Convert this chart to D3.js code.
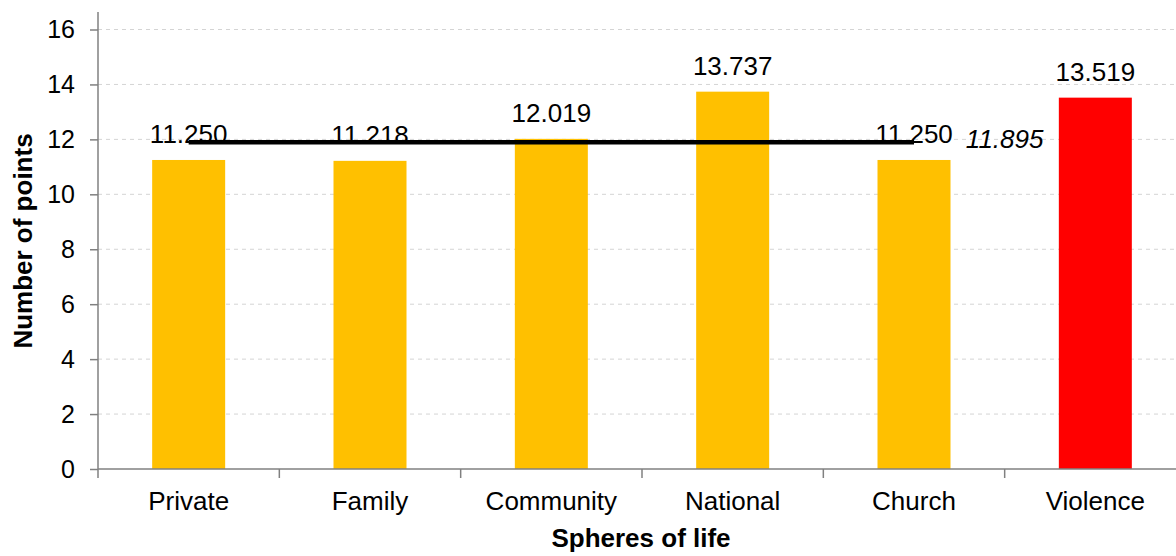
<!DOCTYPE html>
<html>
<head>
<meta charset="utf-8">
<script src="https://cdn.jsdelivr.net/npm/d3@7/dist/d3.min.js"></script>
<style>
  html, body { margin: 0; padding: 0; background: #fff; }
  svg { display: block; font-family: "Liberation Sans", Arial, sans-serif; }
</style>
</head>
<body>
<svg id="chart" width="1176" height="556"></svg>
<script>
// Average points per sphere of life
const categories = ["Private", "Family", "Community", "National", "Church", "Violence"];
const values = [11.250, 11.218, 12.019, 13.737, 11.250, 13.519];
const highlighted = ["Violence"];
const averageValue = 11.895;
const averageSpan = ["Private", "Church"];
const yTicks = [0, 2, 4, 6, 8, 10, 12, 14, 16];

const W = 1176, H = 556;
const plotLeft = 98, plotRight = 1186, plotTop = 29.5, plotBottom = 469;

const svg = d3.select("#chart");

const x = d3.scaleBand().domain(categories).range([plotLeft, plotRight]).paddingInner(0).paddingOuter(0);
const y = d3.scaleLinear().domain([0, 16]).range([plotBottom, plotTop]);
const barW = 73;

// gridlines
svg.append("g")
  .selectAll("line")
  .data(yTicks.filter(d => d > 0))
  .join("line")
  .attr("x1", plotLeft).attr("x2", W)
  .attr("y1", d => y(d)).attr("y2", d => y(d))
  .attr("stroke", "#d4d4d4").attr("stroke-width", 1)
  .attr("stroke-dasharray", "4,4");

// bars
svg.append("g")
  .selectAll("rect")
  .data(categories)
  .join("rect")
  .attr("x", (d) => x(d) + x.bandwidth() / 2 - barW / 2)
  .attr("width", barW)
  .attr("y", (d, i) => y(values[i]))
  .attr("height", (d, i) => y(0) - y(values[i]))
  .attr("fill", d => highlighted.includes(d) ? "#FF0000" : "#FFC000");

// value labels
svg.append("g")
  .selectAll("text")
  .data(categories)
  .join("text")
  .attr("x", d => x(d) + x.bandwidth() / 2)
  .attr("y", (d, i) => y(values[i]) - 17)
  .attr("text-anchor", "middle")
  .attr("font-size", 26)
  .attr("fill", "#000")
  .text((d, i) => values[i].toFixed(3));

// average line across the first five spheres
const cx = d => x(d) + x.bandwidth() / 2;
svg.append("line")
  .attr("x1", cx(averageSpan[0]))
  .attr("x2", cx(averageSpan[1]))
  .attr("y1", y(averageValue)).attr("y2", y(averageValue))
  .attr("stroke", "#000").attr("stroke-width", 4.5);

svg.append("text")
  .attr("x", x(averageSpan[1]) + x.bandwidth())
  .attr("y", y(averageValue) + 6)
  .attr("text-anchor", "middle")
  .attr("font-size", 26)
  .attr("font-style", "italic")
  .text(averageValue.toFixed(3));

// y axis
const yAxis = svg.append("g")
  .attr("transform", `translate(${plotLeft},0)`)
  .call(d3.axisLeft(y).tickValues(yTicks).tickSize(8).tickPadding(15).tickFormat(d3.format("d")));
yAxis.select(".domain").remove();
yAxis.selectAll(".tick line").attr("stroke", "#808080").attr("stroke-width", 1.5);
yAxis.selectAll(".tick text")
  .attr("font-size", 25)
  .attr("font-family", "Liberation Sans, Arial, sans-serif")
  .attr("fill", "#000");
svg.append("line")
  .attr("x1", plotLeft).attr("x2", plotLeft)
  .attr("y1", 12).attr("y2", plotBottom + 9)
  .attr("stroke", "#808080").attr("stroke-width", 1.5);

// x axis
const xAxis = svg.append("g")
  .attr("transform", `translate(0,${plotBottom})`)
  .call(d3.axisBottom(x).tickSize(0).tickPadding(0));
xAxis.select(".domain").remove();
xAxis.selectAll(".tick line").remove();
xAxis.selectAll(".tick text")
  .attr("y", 41)
  .attr("dy", 0)
  .attr("font-size", 26)
  .attr("font-family", "Liberation Sans, Arial, sans-serif")
  .attr("fill", "#000");
svg.append("line")
  .attr("x1", plotLeft).attr("x2", W)
  .attr("y1", plotBottom).attr("y2", plotBottom)
  .attr("stroke", "#808080").attr("stroke-width", 1.5);
svg.append("g")
  .selectAll("line")
  .data(categories.slice(1))
  .join("line")
  .attr("x1", d => x(d)).attr("x2", d => x(d))
  .attr("y1", plotBottom).attr("y2", plotBottom + 9)
  .attr("stroke", "#808080").attr("stroke-width", 1.5);

// axis titles
svg.append("text")
  .attr("x", (plotLeft + plotRight) / 2 - 1)
  .attr("y", 547)
  .attr("text-anchor", "middle")
  .attr("font-size", 26)
  .attr("font-weight", "bold")
  .text("Spheres of life");

svg.append("text")
  .attr("transform", `translate(32,241) rotate(-90)`)
  .attr("text-anchor", "middle")
  .attr("font-size", 26)
  .attr("font-weight", "bold")
  .text("Number of points");
</script>
</body>
</html>
